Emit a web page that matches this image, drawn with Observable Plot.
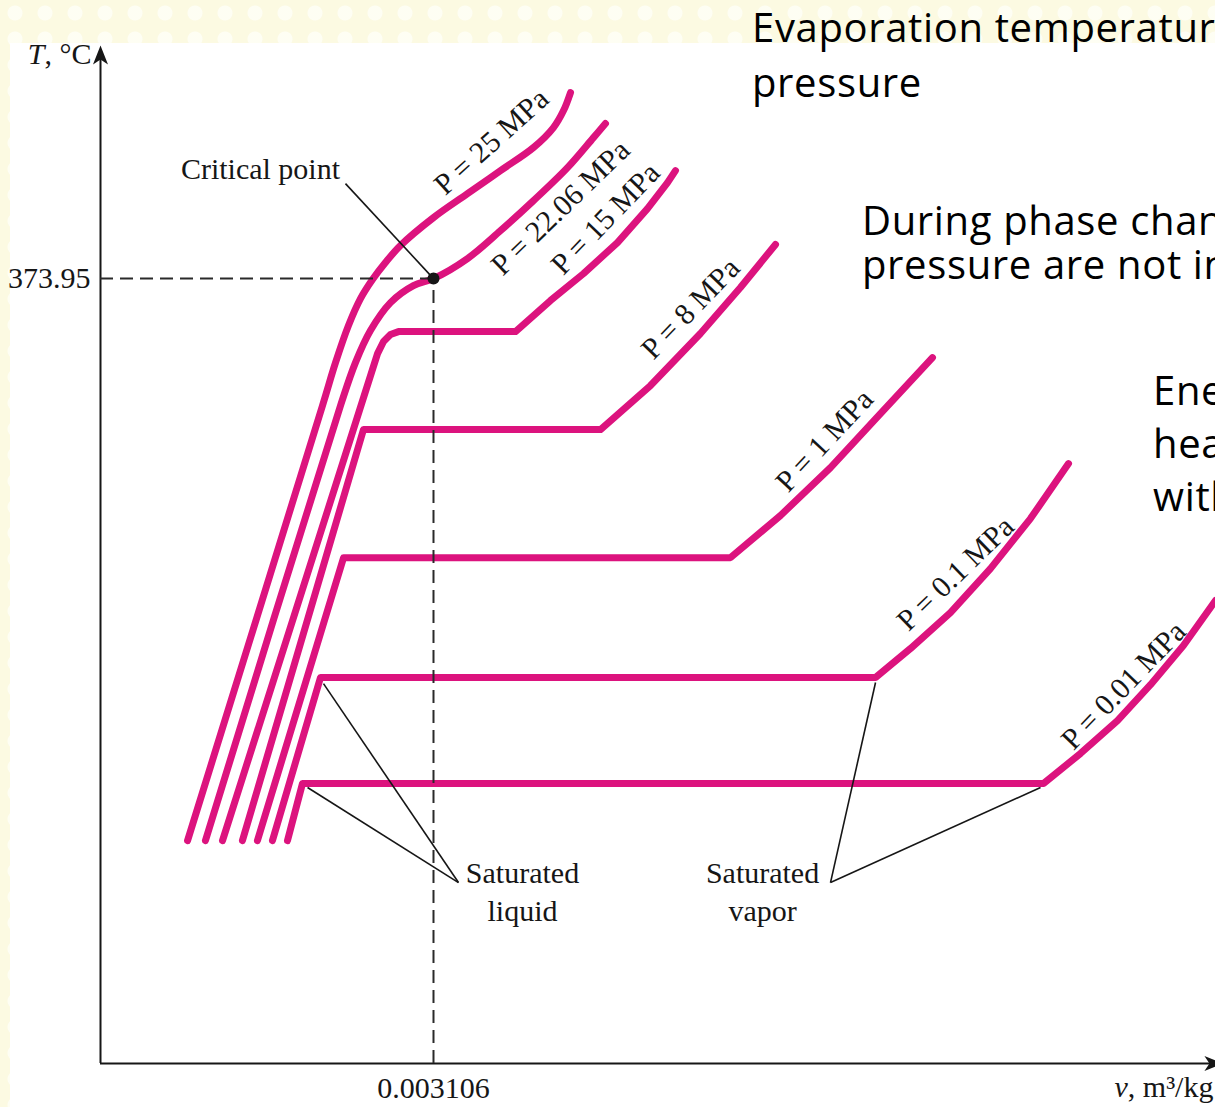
<!DOCTYPE html>
<html>
<head>
<meta charset="utf-8">
<script src="https://cdn.jsdelivr.net/npm/d3@7"></script>
<script src="https://cdn.jsdelivr.net/npm/@observablehq/plot@0.6"></script>
<style>
  html, body { margin: 0; padding: 0; }
  body {
    width: 1215px; height: 1107px; overflow: hidden; position: relative;
    background-color: #fcfae2;
    background-image: radial-gradient(circle at 50% 50%, rgba(255,255,248,0.8) 0 7px, transparent 8px);
    background-size: 30px 26px;
  }
  #panel { position: absolute; left: 10px; top: 43px; width: 1205px; height: 1064px; background: #fff; }
  #chart { position: absolute; left: 0; top: 0; }
  .note { position: absolute; font-family: "Open Sans", sans-serif; font-size: 40px; letter-spacing: 0.65px; color: #000; white-space: nowrap; }
</style>
</head>
<body>
<div id="panel"></div>
<div id="chart"></div>
<div class="note" style="left:752px; top:-1px; line-height:55px">Evaporation temperature depends on<br>pressure</div>
<div class="note" style="left:862px; top:198px; line-height:44px">During phase change, temperature and<br>pressure are not independent</div>
<div class="note" style="left:1153px; top:363px; line-height:53px">Energy is absorbed as latent<br>heat at constant temperature<br>with no temperature change</div>
<script>
// ---- Data (v in 10^-3 m^3/kg, schematic; T in °C, schematic) ----
const pressures = ["25", "22.06", "15", "8", "1", "0.1", "0.01"];
const pressureLabels = ["P = 25 MPa", "P = 22.06 MPa", "P = 15 MPa", "P = 8 MPa", "P = 1 MPa", "P = 0.1 MPa", "P = 0.01 MPa"];

const iso25   = [[0.812,106.2],[2.071,313.5],[2.192,333.9],[2.313,351.6],[2.425,364.4],[2.537,373.5],[2.658,381.6],[2.798,389.7],[3.106,403.0],[3.423,414.4],[3.731,425.4],[4.039,436.4],[4.225,445.9],[4.319,454.0],[4.384,462.6]];
const iso2206 = [[0.979,106.2],[2.239,313.5],[2.378,333.9],[2.518,349.2],[2.705,362.5],[2.919,370.6],[3.106,373.95],[3.423,383.5],[3.731,396.8],[4.039,411.1],[4.356,426.8],[4.598,441.1],[4.710,447.8]];
const iso15   = [[1.138,106.2],[2.584,338.2],[2.640,344.0],[2.705,347.3],[2.780,348.7],[3.871,348.7],[4.197,363.5],[4.505,376.3],[4.822,391.1],[5.102,407.3],[5.289,419.7],[5.363,425.4]];
const iso8    = [[1.324,106.2],[2.453,302.0],[4.664,302.0],[5.130,323.0],[5.596,347.8],[5.969,369.7],[6.296,390.2]];
const iso1    = [[1.464,106.2],[2.267,241.0],[5.876,241.0],[6.343,261.1],[6.809,283.9],[7.275,309.6],[7.760,336.3]];
const iso01   = [[1.604,106.2],[2.052,183.9],[7.229,183.9],[7.555,197.7],[7.928,214.8],[8.301,235.8],[8.674,259.6],[9.029,285.8]];
const iso001  = [[1.744,106.2],[1.884,133.4],[8.796,133.4],[9.141,147.7],[9.486,163.4],[9.794,180.5],[10.101,199.1],[10.400,220.6]];
const isobars = [iso25, iso2206, iso15, iso8, iso1, iso01, iso001];

// isobar label anchor points (data units)
const labelV = [3.647, 4.291, 4.710, 5.503, 6.753, 7.975, 9.542];
const labelT = [439.2, 407.8, 402.5, 359.7, 296.8, 233.4, 180.1];
const labelAngle = [-42, -44, -46, -46, -47, -44, -46];

// critical point
const critV = 3.106, critT = 373.95;
const critVLabel = "0.003106", critTLabel = "373.95";

// annotation texts and leaders
const noteText = ["Critical point", "Saturated\nliquid", "Saturated\nvapor"];
const noteV = [1.492, 3.936, 6.175];
const noteT = [427.3, 82.9, 82.9];
const leaderV1 = [2.285, 2.080, 1.931, 7.229, 8.768];
const leaderT1 = [419.2, 181.0, 131.5, 181.5, 131.5];
const leaderV2 = [3.106, 3.339, 3.339, 6.809, 6.809];
const leaderT2 = [373.95, 86.2, 86.2, 86.2, 86.2];

// axes
const vMax = 10.4, TMax = 485;
const axisTitleY = "T, °C", axisTitleX = "v, m³/kg";

// ---- Build tables ----
const rows = [];
isobars.forEach((pts, i) => pts.forEach(([v, T]) => rows.push({P: pressures[i], v, T, supercritical: i < 2})));
const labels = pressureLabels.map((text, i) => ({text, v: labelV[i], T: labelT[i], angle: labelAngle[i]}));
const notes = noteText.map((text, i) => ({text, v: noteV[i], T: noteT[i]}));
const leaders = leaderV1.map((v1, i) => ({v1, T1: leaderT1[i], v2: leaderV2[i], T2: leaderT2[i]}));

const magenta = "#dc137e";
const ink = "#161616";
const arrowUp = {draw(ctx) { ctx.moveTo(0, 0); ctx.lineTo(-7.5, 19); ctx.lineTo(0, 14); ctx.lineTo(7.5, 19); ctx.closePath(); }};
const arrowRight = {draw(ctx) { ctx.moveTo(0, 0); ctx.lineTo(-19, -7.5); ctx.lineTo(-14, 0); ctx.lineTo(-19, 7.5); ctx.closePath(); }};

const chart = Plot.plot({
  width: 1215, height: 1107,
  marginLeft: 100, marginRight: 0, marginTop: 45, marginBottom: 44,
  style: {background: "transparent", fontFamily: "'Liberation Serif', 'Times New Roman', serif", fontSize: "30px", color: ink, overflow: "visible"},
  x: {domain: [0, vMax], ticks: [critV], tickFormat: () => critVLabel, tickSize: 0, tickPadding: 13, label: null},
  y: {domain: [0, TMax], ticks: [critT], tickFormat: () => critTLabel, tickSize: 0, tickPadding: 10, label: null},
  marks: [
    // axis lines
    Plot.ruleY([{T: 0, v1: 0, v2: vMax}], {y: "T", x1: "v1", x2: "v2", stroke: ink, strokeWidth: 2}),
    Plot.ruleX([{v: 0, T1: 0, T2: TMax - 3}], {x: "v", y1: "T1", y2: "T2", stroke: ink, strokeWidth: 2}),
    Plot.dot([{v: 0, T: TMax}], {x: "v", y: "T", symbol: arrowUp, fill: ink, stroke: "none", r: 6}),
    Plot.dot([{v: 10.474, T: 0}], {x: "v", y: "T", symbol: arrowRight, fill: ink, stroke: "none", r: 6}),
    // isobars
    Plot.line(rows.filter(d => d.supercritical), {x: "v", y: "T", z: "P", stroke: magenta, strokeWidth: 7, curve: "catmull-rom", strokeLinecap: "round", strokeLinejoin: "round"}),
    Plot.line(rows.filter(d => !d.supercritical), {x: "v", y: "T", z: "P", stroke: magenta, strokeWidth: 7, curve: "linear", strokeLinecap: "round", strokeLinejoin: "round"}),
    // critical dashed guides
    Plot.ruleY([{T: critT, v1: 0, v2: critV}], {y: "T", x1: "v1", x2: "v2", stroke: "#2a2a2a", strokeWidth: 2, strokeDasharray: "13,7"}),
    Plot.ruleX([{v: critV, T1: 0, T2: critT}], {x: "v", y1: "T1", y2: "T2", stroke: "#2a2a2a", strokeWidth: 2, strokeDasharray: "13,7"}),
    // leaders
    Plot.link(leaders, {x1: "v1", y1: "T1", x2: "v2", y2: "T2", stroke: ink, strokeWidth: 1.6}),
    Plot.dot([{v: critV, T: critT}], {x: "v", y: "T", r: 6, fill: ink, stroke: "none"}),
    // texts
    Plot.text(labels, {x: "v", y: "T", text: "text", rotate: (d) => d.angle, fill: ink, fontSize: 30}),
    Plot.text(notes, {x: "v", y: "T", text: "text", fill: ink, fontSize: 30, lineHeight: 1.27}),
    Plot.text([{v: 0, T: 481}], {x: "v", y: "T", text: () => axisTitleY, textAnchor: "end", dx: -9, fill: ink, fontSize: 30}),
    Plot.text([{v: 10.381, T: 0}], {x: "v", y: "T", text: () => axisTitleX, textAnchor: "end", dy: 24, fill: ink, fontSize: 30})
  ]
});

// italic variable symbols
chart.querySelectorAll("text").forEach(t => {
  if (t.textContent === axisTitleY) t.innerHTML = '<tspan font-style="italic">T</tspan>, °C';
  else if (t.textContent === axisTitleX) t.innerHTML = '<tspan font-style="italic">v</tspan>, m³/kg';
});
document.getElementById("chart").appendChild(chart);
</script>
</body>
</html>
